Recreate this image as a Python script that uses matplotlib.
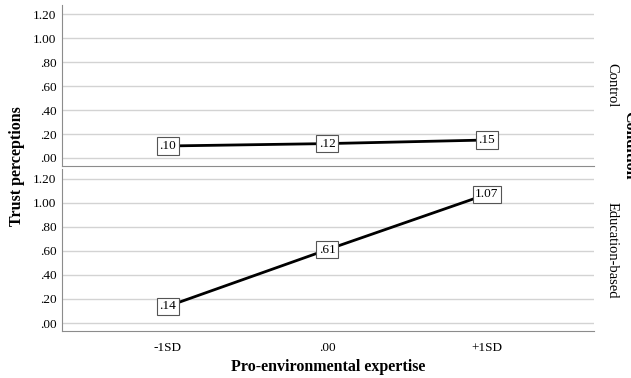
import matplotlib.pyplot as plt

# datos
niveles = ['-1SD', '.00', '+1SD']
control = [0.10, 0.12, 0.15]
educacion = [0.14, 0.61, 1.07]
paneles = ['Control', 'Education-based']
yticks = [0.0, 0.2, 0.4, 0.6, 0.8, 1.0, 1.2]
ytick_labels = ['.00', '.20', '.40', '.60', '.80', '1.00', '1.20']
etiquetas_control = ['.10', '.12', '.15']
etiquetas_educacion = ['.14', '.61', '1.07']

plt.rcParams['font.family'] = ['Liberation Serif', 'DejaVu Serif']

fig = plt.figure(figsize=(6.31, 3.78), dpi=100)
ax1 = fig.add_axes([0.098, 0.561, 0.843, 0.426])
ax2 = fig.add_axes([0.098, 0.124, 0.843, 0.429])

x = list(range(len(niveles)))
gris = '#8c8c8c'

for ax, valores, etiquetas, nombre in [(ax1, control, etiquetas_control, paneles[0]),
                                       (ax2, educacion, etiquetas_educacion, paneles[1])]:
    ax.set_xlim(-0.665, 2.67)
    ax.set_ylim(-0.067, 1.28)
    ax.set_yticks(yticks)
    ax.set_yticklabels(ytick_labels, fontsize=9.5)
    ax.yaxis.grid(True, color='#d3d3d3', linewidth=1)
    ax.set_axisbelow(True)
    ax.tick_params(length=0, pad=4)
    for lado in ['top', 'right']:
        ax.spines[lado].set_visible(False)
    ax.spines['left'].set_color(gris)
    ax.spines['bottom'].set_color(gris)
    ax.plot(x, valores, color='black', linewidth=2, zorder=3)
    for xi, v, t in zip(x, valores, etiquetas):
        ax.text(xi, v, t, ha='center', va='center', fontsize=9.5, zorder=4,
                bbox=dict(boxstyle='square,pad=0.2', facecolor='white',
                          edgecolor='#555555', linewidth=0.8))
    ax.text(1.022, 0.5, nombre, transform=ax.transAxes, rotation=-90,
            ha='left', va='center', fontsize=10.5)

ax1.set_xticks(x)
ax1.set_xticklabels([])
ax2.set_xticks(x)
ax2.set_xticklabels(niveles, fontsize=9.5)
ax2.tick_params(axis='x', pad=8)

fig.text(0.027, 0.56, 'Trust perceptions', rotation=90, ha='center', va='center',
         fontsize=11.5, fontweight='bold')
fig.text(0.52, 0.03, 'Pro-environmental expertise', ha='center', va='center',
         fontsize=11.5, fontweight='bold')
fig.text(0.985, 0.615, 'Condition', rotation=-90, ha='left', va='center',
         fontsize=11.5, fontweight='bold')

fig.savefig('out.png', dpi=100)
